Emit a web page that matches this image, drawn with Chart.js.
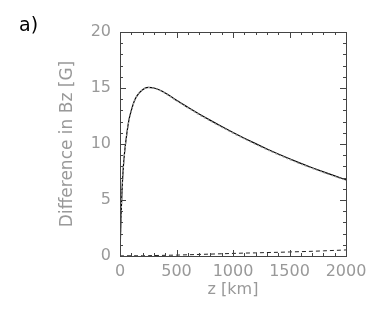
<!DOCTYPE html>
<html>
<head>
<meta charset="utf-8">
<script src="https://cdn.jsdelivr.net/npm/chart.js@4"></script>
<style>
  html, body { margin: 0; padding: 0; background: #fff; }
  #wrap { width: 382px; height: 316px; }
</style>
</head>
<body>
<div id="wrap"><canvas id="myChart" width="382" height="316"></canvas></div>
<script>
const zKm = [0, 5, 10, 20, 30, 40, 60, 80, 100, 125, 150, 200, 250, 300, 350, 400, 450, 500,
  600, 700, 800, 900, 1000, 1100, 1200, 1300, 1400, 1500, 1600, 1700, 1800, 1900, 2000];
const bzSolid = [0, 2.0, 3.8, 6.3, 8.0, 9.2, 10.9, 12.2, 13.0, 13.8, 14.3, 14.85, 15.05, 15.0, 14.82, 14.55, 14.24, 13.9,
  13.28, 12.68, 12.11, 11.56, 11.03, 10.52, 10.03, 9.56, 9.11, 8.68, 8.27, 7.88, 7.51, 7.15, 6.8];
const bzDotted = [0, 1.9, 3.7, 6.2, 7.9, 9.1, 10.8, 12.1, 12.95, 13.75, 14.28, 14.84, 15.04, 14.98, 14.8, 14.52, 14.2, 13.86,
  13.23, 12.62, 12.05, 11.5, 10.97, 10.46, 9.97, 9.5, 9.05, 8.62, 8.21, 7.83, 7.46, 7.1, 6.76];
const bzDashed = [0, 0.01, 0.01, 0.02, 0.02, 0.02, 0.02, 0.02, 0.02, 0.02, 0.02, 0.02, 0.03, 0.04, 0.05, 0.06, 0.07, 0.08,
  0.11, 0.14, 0.17, 0.2, 0.23, 0.26, 0.28, 0.31, 0.33, 0.36, 0.39, 0.42, 0.46, 0.5, 0.54];

const xTicks = [0, 500, 1000, 1500, 2000];
const yTicks = [0, 5, 10, 15, 20];

function toPoints(ys) {
  return zKm.map((z, i) => ({ x: z, y: ys[i] }));
}

// IDL style box with inward ticks on all four sides
const boxPlugin = {
  id: "box",
  afterDraw(chart) {
    const ctx = chart.ctx;
    const a = chart.chartArea;
    const xs = chart.scales.x;
    const ys = chart.scales.y;
    ctx.save();
    ctx.strokeStyle = "#444";
    ctx.lineWidth = 1;
    ctx.strokeRect(a.left + 0.5, a.top + 0.5, a.right - a.left, a.bottom - a.top);
    ctx.beginPath();
    for (let v = 0; v <= 2000; v += 100) {
      const p = Math.round(xs.getPixelForValue(v)) + 0.5;
      const len = v % 500 === 0 ? 6 : 3;
      ctx.moveTo(p, a.bottom); ctx.lineTo(p, a.bottom - len);
      ctx.moveTo(p, a.top); ctx.lineTo(p, a.top + len);
    }
    for (let v = 0; v <= 20; v += 1) {
      const p = Math.round(ys.getPixelForValue(v)) + 0.5;
      const len = v % 5 === 0 ? 6 : 3;
      ctx.moveTo(a.left, p); ctx.lineTo(a.left + len, p);
      ctx.moveTo(a.right, p); ctx.lineTo(a.right - len, p);
    }
    ctx.stroke();
    ctx.fillStyle = "#000";
    ctx.font = "19px 'DejaVu Sans'";
    ctx.textBaseline = "top";
    ctx.fillText("a)", 19, 17);
    ctx.restore();
  },
};

const labelFont = { family: "DejaVu Sans", size: 16 };
const grey = "#999";

new Chart(document.getElementById("myChart"), {
  type: "line",
  data: {
    datasets: [
      {
        label: "model",
        data: toPoints(bzDotted),
        borderColor: "#9a9a9a",
        borderWidth: 1.2,
        borderDash: [2, 2],
        pointRadius: 0,
        cubicInterpolationMode: "monotone",
      },
      {
        label: "fit",
        data: toPoints(bzSolid),
        borderColor: "#000",
        borderWidth: 1.2,
        pointRadius: 0,
        cubicInterpolationMode: "monotone",
      },
      {
        label: "residual",
        data: toPoints(bzDashed),
        borderColor: "#222",
        borderWidth: 1,
        borderDash: [4, 3],
        pointRadius: 0,
        cubicInterpolationMode: "monotone",
      },
    ],
  },
  options: {
    responsive: false,
    animation: false,
    layout: { padding: { left: 50, right: 36, top: 32, bottom: 0 } },
    plugins: { legend: { display: false }, tooltip: { enabled: false } },
    scales: {
      x: {
        type: "linear",
        min: 0,
        max: 2000,
        afterBuildTicks: (s) => { s.ticks = xTicks.map((v) => ({ value: v })); },
        afterFit: (s) => { s.height = 60; },
        grid: { display: false, drawTicks: false },
        border: { display: false },
        ticks: { color: grey, font: labelFont, padding: 6, maxRotation: 0, callback: (v) => String(v) },
        title: { display: true, text: "z [km]", color: grey, font: labelFont, padding: { top: 0, bottom: 17 } },
      },
      y: {
        min: 0,
        max: 20,
        afterBuildTicks: (s) => { s.ticks = yTicks.map((v) => ({ value: v })); },
        afterFit: (s) => { s.width = 70; },
        grid: { display: false, drawTicks: false },
        border: { display: false },
        ticks: { color: grey, font: labelFont, padding: 9, callback: (v) => String(v) },
        title: { display: true, text: "Difference in Bz [G]", color: grey, font: { family: "DejaVu Sans", size: 17 }, padding: { top: 7, bottom: 0 } },
      },
    },
  },
  plugins: [boxPlugin],
});
</script>
</body>
</html>
